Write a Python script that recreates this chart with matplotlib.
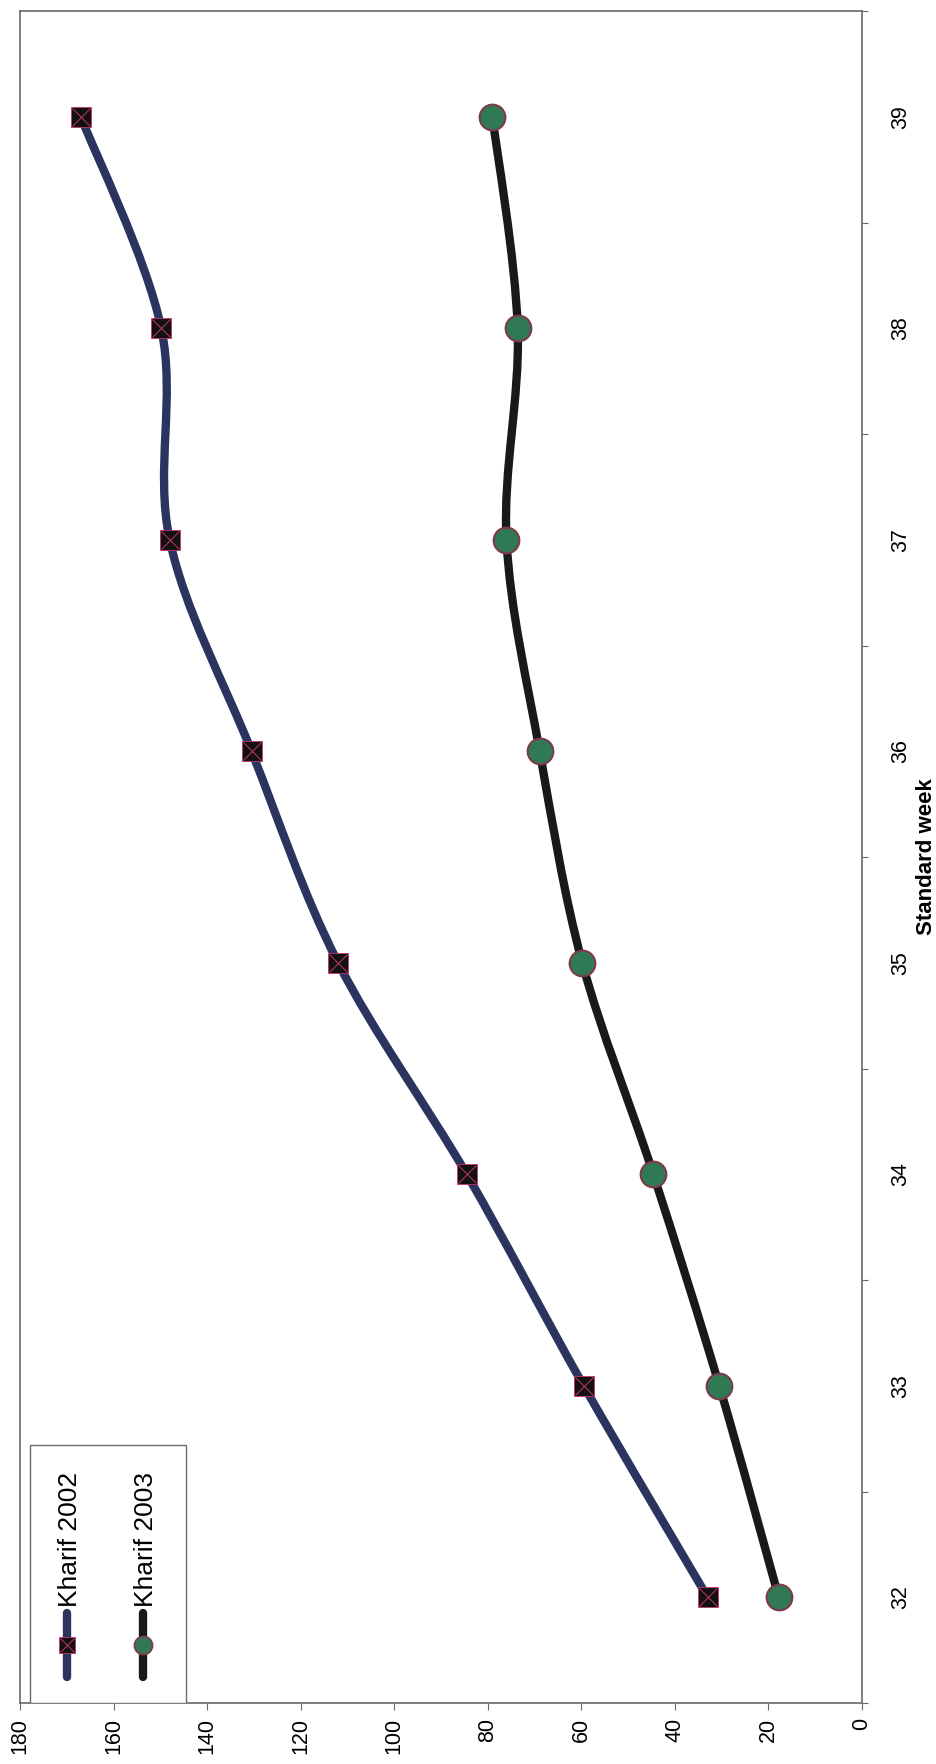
import numpy as np
import matplotlib
matplotlib.use("Agg")
import matplotlib.pyplot as plt
from matplotlib.path import Path
from matplotlib.patches import PathPatch, Rectangle
from matplotlib.lines import Line2D

plt.rcParams['font.family'] = ['Liberation Sans', 'DejaVu Sans']

weeks = [32, 33, 34, 35, 36, 37, 38, 39]
kharif_2002 = [33.0, 59.5, 84.5, 112.0, 130.5, 148.0, 149.8, 167.0]
kharif_2003 = [17.8, 30.5, 44.6, 59.8, 68.9, 76.0, 73.6, 79.0]
series_names = ["Kharif 2002", "Kharif 2003"]
value_ticks = [0, 20, 40, 60, 80, 100, 120, 140, 160, 180]

line_2002 = '#2a345e'
line_2003 = '#161b19'
cross_col = '#c8336f'
dot_fill = '#2f7a55'
dot_edge = '#7d3a4a'
spine_col = '#6a6a6a'


def smooth_path(vals, wks):
    # Catmull-Rom style cubic Bezier through every point
    pts = np.column_stack([vals, wks]).astype(float)
    n = len(pts)
    verts = [pts[0]]
    codes = [Path.MOVETO]
    for i in range(n - 1):
        p0 = pts[max(i - 1, 0)]
        p1 = pts[i]
        p2 = pts[i + 1]
        p3 = pts[min(i + 2, n - 1)]
        verts += [p1 + (p2 - p0) / 6.0, p2 - (p3 - p1) / 6.0, p2]
        codes += [Path.CURVE4] * 3
    return Path(verts, codes)


fig = plt.figure(figsize=(9.37, 17.64), dpi=100)
W, H = 937, 1764
x0, x1, y0, y1 = 20, 862, 11, 1703
ax = fig.add_axes([x0 / W, 1 - y1 / H, (x1 - x0) / W, (y1 - y0) / H])

ax.add_patch(PathPatch(smooth_path(kharif_2002, weeks), fill=False,
                       edgecolor=line_2002, lw=6, capstyle='round', zorder=2))
ax.add_patch(PathPatch(smooth_path(kharif_2003, weeks), fill=False,
                       edgecolor=line_2003, lw=6, capstyle='round', zorder=2))

ax.plot(kharif_2002, weeks, ls='none', marker='s', ms=15, mfc='#111111',
        mec=cross_col, mew=0.6, zorder=3)
ax.plot(kharif_2002, weeks, ls='none', marker='x', ms=13, mec=cross_col,
        mew=0.7, zorder=4)
ax.plot(kharif_2003, weeks, ls='none', marker='o', ms=18.5, mfc=dot_fill,
        mec=dot_edge, mew=1.5, zorder=3)

ax.set_xlim(180, 0)
ax.set_ylim(31.5, 39.5)

ax.set_xticks(value_ticks)
ax.set_xticklabels([str(v) for v in value_ticks], rotation=90, fontsize=15.5)
ax.tick_params(axis='x', direction='out', length=5, width=0.8,
               color=spine_col, pad=6)

ax.yaxis.tick_right()
ax.set_yticks(weeks)
ax.set_yticklabels([str(w) for w in weeks], rotation=90, fontsize=15.5,
                   va='center')
ax.set_yticks(np.arange(31.5, 40.0, 1.0), minor=True)
ax.tick_params(axis='y', which='major', length=0, pad=20)
ax.tick_params(axis='y', which='minor', direction='out', length=4.5,
               width=0.8, color=spine_col)
ax.yaxis.set_label_position('right')
ax.set_ylabel("Standard week", rotation=90, fontsize=16, fontweight='bold',
              labelpad=4)

for sp in ax.spines.values():
    sp.set_color(spine_col)
    sp.set_linewidth(1.2)

# legend drawn by hand so it reads sideways like the axes
ax.add_patch(Rectangle((0.0119, 0.0), 0.1853, 0.1525, transform=ax.transAxes,
                       facecolor='white', edgecolor=spine_col, lw=1.0,
                       zorder=5))
entries = [
    (0.0558, series_names[0], line_2002, dict(marker='s', ms=12, mfc='#111111',
                                              mec=cross_col, mew=0.6)),
    (0.1461, series_names[1], line_2003, dict(marker='o', ms=13, mfc=dot_fill,
                                              mec=dot_edge, mew=1.3)),
]
for xf, name, col, mk in entries:
    ax.add_line(Line2D([xf, xf], [0.0154, 0.0532], color=col, lw=6,
                       solid_capstyle='round', transform=ax.transAxes,
                       zorder=6))
    ax.add_line(Line2D([xf], [0.0343], ls='none', transform=ax.transAxes,
                       zorder=7, **mk))
    if mk['marker'] == 's':
        ax.add_line(Line2D([xf], [0.0343], ls='none', marker='x', ms=10,
                           mec=cross_col, mew=0.7, transform=ax.transAxes,
                           zorder=8))
    ax.text(xf + 0.003, 0.0567, name, rotation=90, ha='center', va='bottom',
            fontsize=19, transform=ax.transAxes, zorder=8)

fig.savefig("out.png", dpi=100)
